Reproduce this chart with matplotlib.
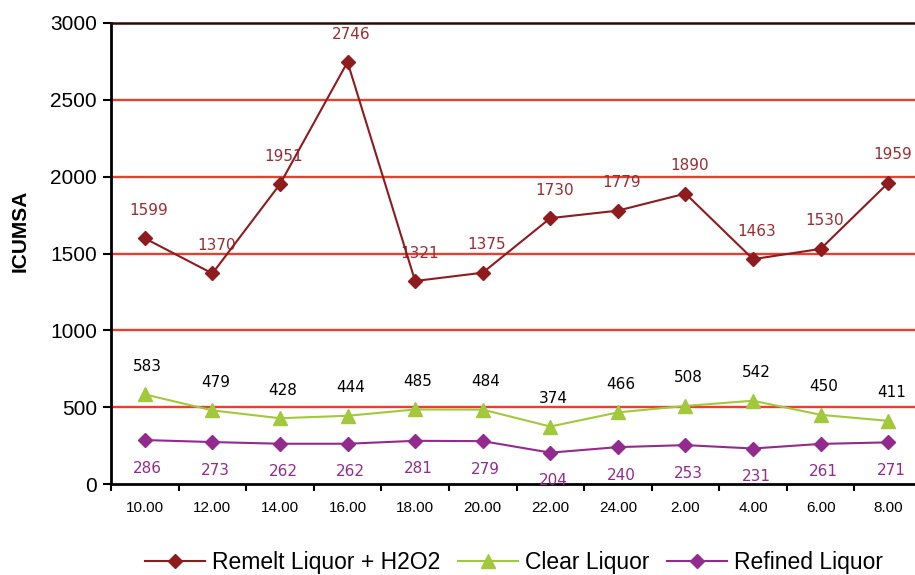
import matplotlib
matplotlib.use('Agg')
import matplotlib.pyplot as plt
import numpy as np

# data
hours = ['10.00', '12.00', '14.00', '16.00', '18.00', '20.00',
         '22.00', '24.00', '2.00', '4.00', '6.00', '8.00']
remelt = [1599, 1370, 1951, 2746, 1321, 1375, 1730, 1779, 1890, 1463, 1530, 1959]
clear = [583, 479, 428, 444, 485, 484, 374, 466, 508, 542, 450, 411]
refined = [286, 273, 262, 262, 281, 279, 204, 240, 253, 231, 261, 271]
y_ticks = [0, 500, 1000, 1500, 2000, 2500, 3000]

RED = '#8e1b1e'
RED_TXT = '#9b2c32'
GREEN = '#a2c83b'
PURPLE = '#932a8e'
GRID = '#e8402e'

W, H = 915, 575
fig = plt.figure(figsize=(W / 100, H / 100), dpi=100)
ax = fig.add_axes([111 / W, 1 - 484 / H, (922 - 111) / W, (484 - 23) / H])

x = np.arange(len(hours))

ax.plot(x, remelt, color=RED, lw=1.5, marker='D', ms=7.5, label='Remelt Liquor + H2O2', zorder=4)
ax.plot(x, clear, color=GREEN, lw=1.5, marker='^', ms=10, label='Clear Liquor', zorder=4)
ax.plot(x, refined, color=PURPLE, lw=1.5, marker='D', ms=7.5, label='Refined Liquor', zorder=4)

# value labels
lab_font = dict(fontsize=11, family='DejaVu Sans', ha='center', va='center')
for xi, v in zip(x, remelt):
    ax.annotate(str(v), (xi, v), xytext=(4, 28), textcoords='offset pixels', color=RED_TXT, **lab_font)
for xi, v in zip(x, clear):
    ax.annotate(str(v), (xi, v), xytext=(3, 28), textcoords='offset pixels', color='black', **lab_font)
for xi, v in zip(x, refined):
    ax.annotate(str(v), (xi, v), xytext=(3, -28), textcoords='offset pixels', color=PURPLE, **lab_font)

ax.set_xlim(-0.5, len(hours) - 0.5)
ax.set_ylim(0, 3000)

# horizontal red grid
for t in y_ticks[1:-1]:
    ax.axhline(t, color=GRID, lw=1.7, zorder=1)

ax.set_yticks(y_ticks)
ax.set_yticklabels([str(t) for t in y_ticks], fontsize=15, family='Liberation Sans')
ax.tick_params(axis='y', length=6, width=1.5, pad=4)

ax.set_xticks(np.arange(-0.5, len(hours), 1.0))
ax.set_xticklabels([])
ax.tick_params(axis='x', which='major', length=5, width=1.5)
ax.set_xticks(x, minor=True)
ax.set_xticklabels(hours, minor=True, fontsize=11, family='Liberation Sans')
ax.tick_params(axis='x', which='minor', length=0, pad=12)

ax.spines['right'].set_visible(False)
ax.spines['top'].set_color('#2a0a0a')
ax.spines['top'].set_linewidth(1.8)
ax.spines['left'].set_linewidth(2)
ax.spines['bottom'].set_linewidth(2)

fig.text(20 / W, 1 - 231 / H, 'ICUMSA', rotation=90, ha='center', va='center',
         fontsize=15, fontweight='bold', family='Liberation Sans')

fig.legend(loc='center', bbox_to_anchor=(514 / W, 1 - 563 / H), ncol=3, frameon=False,
           prop={'family': 'Liberation Sans', 'size': 16.5}, handlelength=2.6,
           handletextpad=0.3, columnspacing=0.8)

fig.savefig('out.png', dpi=100)
